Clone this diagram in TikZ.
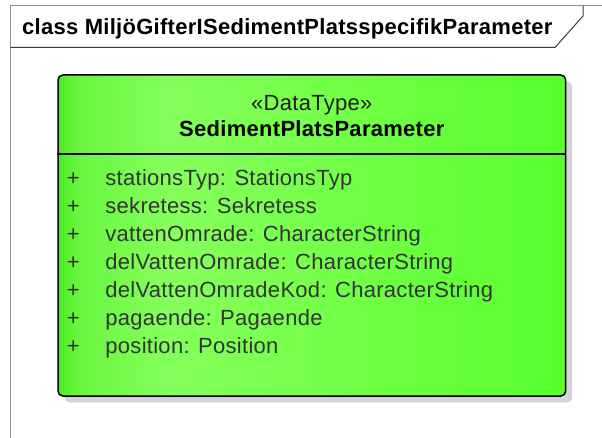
\documentclass[tikz,border=0pt]{standalone}
\usepackage{fontspec}
\setmainfont{Liberation Sans}
\newfontfamily\umlfont[LetterSpace=1.3]{Liberation Sans}
\usetikzlibrary{positioning, calc, shadows}
\definecolor{framegray}{HTML}{8C8C8C}
\definecolor{tabgray}{HTML}{3A3A3A}
\definecolor{greenbase}{HTML}{58FF2C}
\definecolor{greenlight}{HTML}{86FF5C}
\definecolor{greenedge}{HTML}{4CEC22}
\definecolor{shadowgray}{HTML}{D3D4DA}
\definecolor{attrgray}{HTML}{333333}
\pgfdeclarehorizontalshading{green_ramp}{100bp}{
  color(0bp)=(greenedge); color(25bp)=(greenedge); color(27bp)=(greenedge!50!greenlight);
  color(36bp)=(greenlight); color(75bp)=(greenbase); color(100bp)=(greenbase)}
\tikzset{
  uml_font/.style = {font=\umlfont\fontsize{22}{26}\selectfont},
  uml_bold/.style = {font=\umlfont\bfseries\fontsize{22}{26}\selectfont},
  frame_line/.style = {draw=framegray, line width=1},
  tab_line/.style = {draw=tabgray, line width=1}
}
\tikzset{
  title/.style = {uml_bold, text=black, inner sep=0},
  datatype/.style = {draw=black, line width=1.5, rounded corners=5,
    shading=green_ramp, minimum width=507.7, minimum height=321, inner sep=0,
    general shadow={fill=shadowgray, shadow xshift=6.5, shadow yshift=6.5}},
  stereo/.style = {uml_font, text=black!88, inner sep=0},
  class_name/.style = {uml_bold, text=black, inner sep=0},
  attr/.style = {uml_font, text=attrgray, inner sep=0},
  box_line/.style = {draw=black, line width=1.5}
}
\begin{document}
\begin{tikzpicture}[x=1pt, y=-1pt]
        \useasboundingbox (0,0) rectangle (602,438);

        % Frame
        \coordinate (frame_nw) at (10.5,6);
        \draw[frame_line] (602,6) -- (frame_nw) -- (10.5,438);
        \draw[tab_line] (10.5,47.5) -- (555,47.5) -- (583,16) -- (583,6);
        \node[title, anchor=base west] at (22,35) (frame_title) {
            class MiljöGifterISedimentPlatsspecifikParameter};

        % Data type
        \node[datatype] at (311.85,235.5) (dt) {};
        \node[stereo, anchor=base] at ([yshift=-36]dt.north) (dt_stereo) {
            «DataType»};
        \node[class_name, anchor=base] at ([yshift=-26]dt_stereo.base) (dt_name) {
            SedimentPlatsParameter};
        \draw[box_line] ([yshift=-80]dt.north west) -- ([yshift=-80]dt.north east);

        % Attributes
        \node[attr, anchor=base west] at ([xshift=48, yshift=-111]dt.north west) (attr_1) {
            stationsTyp: StationsTyp};
        \node[attr, anchor=base west] at ([yshift=-28]attr_1.base west) (attr_2) {
            sekretess: Sekretess};
        \node[attr, anchor=base west] at ([yshift=-28]attr_2.base west) (attr_3) {
            vattenOmrade: CharacterString};
        \node[attr, anchor=base west] at ([yshift=-28]attr_3.base west) (attr_4) {
            delVattenOmrade: CharacterString};
        \node[attr, anchor=base west] at ([yshift=-28]attr_4.base west) (attr_5) {
            delVattenOmradeKod: CharacterString};
        \node[attr, anchor=base west] at ([yshift=-28]attr_5.base west) (attr_6) {
            pagaende: Pagaende};
        \node[attr, anchor=base west] at ([yshift=-28]attr_6.base west) (attr_7) {
            position: Position};

        % Visibility
        \node[attr, anchor=base] at ([xshift=-32]attr_1.base west) (plus_1) {+};
        \node[attr, anchor=base] at ([xshift=-32]attr_2.base west) (plus_2) {+};
        \node[attr, anchor=base] at ([xshift=-32]attr_3.base west) (plus_3) {+};
        \node[attr, anchor=base] at ([xshift=-32]attr_4.base west) (plus_4) {+};
        \node[attr, anchor=base] at ([xshift=-32]attr_5.base west) (plus_5) {+};
        \node[attr, anchor=base] at ([xshift=-32]attr_6.base west) (plus_6) {+};
        \node[attr, anchor=base] at ([xshift=-32]attr_7.base west) (plus_7) {+};
\end{tikzpicture}
\end{document}
